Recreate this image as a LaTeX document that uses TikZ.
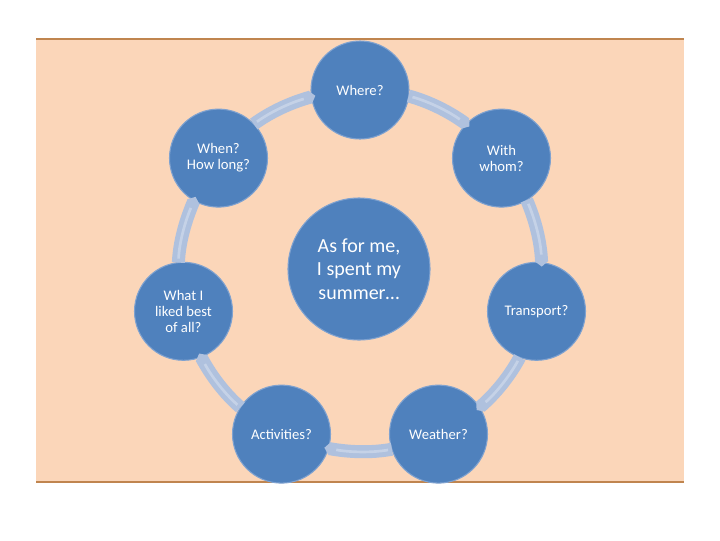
\documentclass[tikz,border=0pt]{standalone}
\usepackage{fontspec}
\setmainfont{Carlito}
\usetikzlibrary{arrows.meta}
\definecolor{peach}{HTML}{FBD6B9}
\definecolor{rulec}{HTML}{C0854F}
\definecolor{ballc}{HTML}{4F81BD}
\definecolor{ballrim}{HTML}{7FA2D0}
\definecolor{bandc}{HTML}{AFC1DE}
\definecolor{bandhi}{HTML}{D8E1F0}
\begin{document}
\begin{tikzpicture}[x=0.75pt,y=-0.75pt,
  ball/.style={circle, fill=ballc, draw=ballrim, line width=0.8pt, minimum size=73.5pt,
    inner sep=0pt, outer sep=0pt, align=center, text=white, font=\fontsize{11}{12}\selectfont},
  hub/.style={ball, minimum size=106.5pt, font=\fontsize{15}{17.5}\selectfont},
  band/.style={draw=bandc, line width=9.75pt, -{Triangle[length=4pt,width=9.75pt]}, shorten >=-3pt},
  bandlight/.style={draw=bandhi, draw opacity=0.55, line width=2pt, shorten >=6pt, shorten <=3pt},
]
\useasboundingbox (0,0) rectangle (720,540);
\fill[peach] (36,39) rectangle (684,482);
\draw[rulec, line width=1.2pt] (36,39) -- (684,39);
\draw[rulec, line width=1.2pt] (36,482) -- (684,482);

\node[hub] (hub) at (359,269) {As for me,\\I spent my\\summer…};
\node[ball] (n0) at (360,90) {Where?};
\node[ball] (n1) at (501.5,158.1) {With\\whom?};
\node[ball] (n2) at (536.5,311.3) {Transport?};
\node[ball] (n3) at (438.5,434.1) {Weather?};
\node[ball] (n4) at (281.5,434.1) {Activities?};
\node[ball] (n5) at (183.5,311.3) {What I\\liked best\\of all?};
\node[ball] (n6) at (218.5,158.1) {When?\\How long?};

\foreach \a/\b [count=\k from 0] in {n0/n1,n1/n2,n2/n3,n3/n4,n4/n5,n5/n6,n6/n0} {
  \pgfmathsetmacro\p{90-51.4286*\k}
  \pgfmathsetmacro\sa{\p-97.78}
  \pgfmathsetmacro\ea{\p+46.35}
  \pgfmathsetmacro\oa{\p-105.56}
  \pgfmathsetmacro\ia{\p+54.13}
  \draw[band] (\a.\sa) to[out=\oa, in=\ia, looseness=0.86] (\b.\ea);
  \draw[bandlight] (\a.\sa) to[out=\oa, in=\ia, looseness=0.86] (\b.\ea);
}
\end{tikzpicture}
\end{document}
